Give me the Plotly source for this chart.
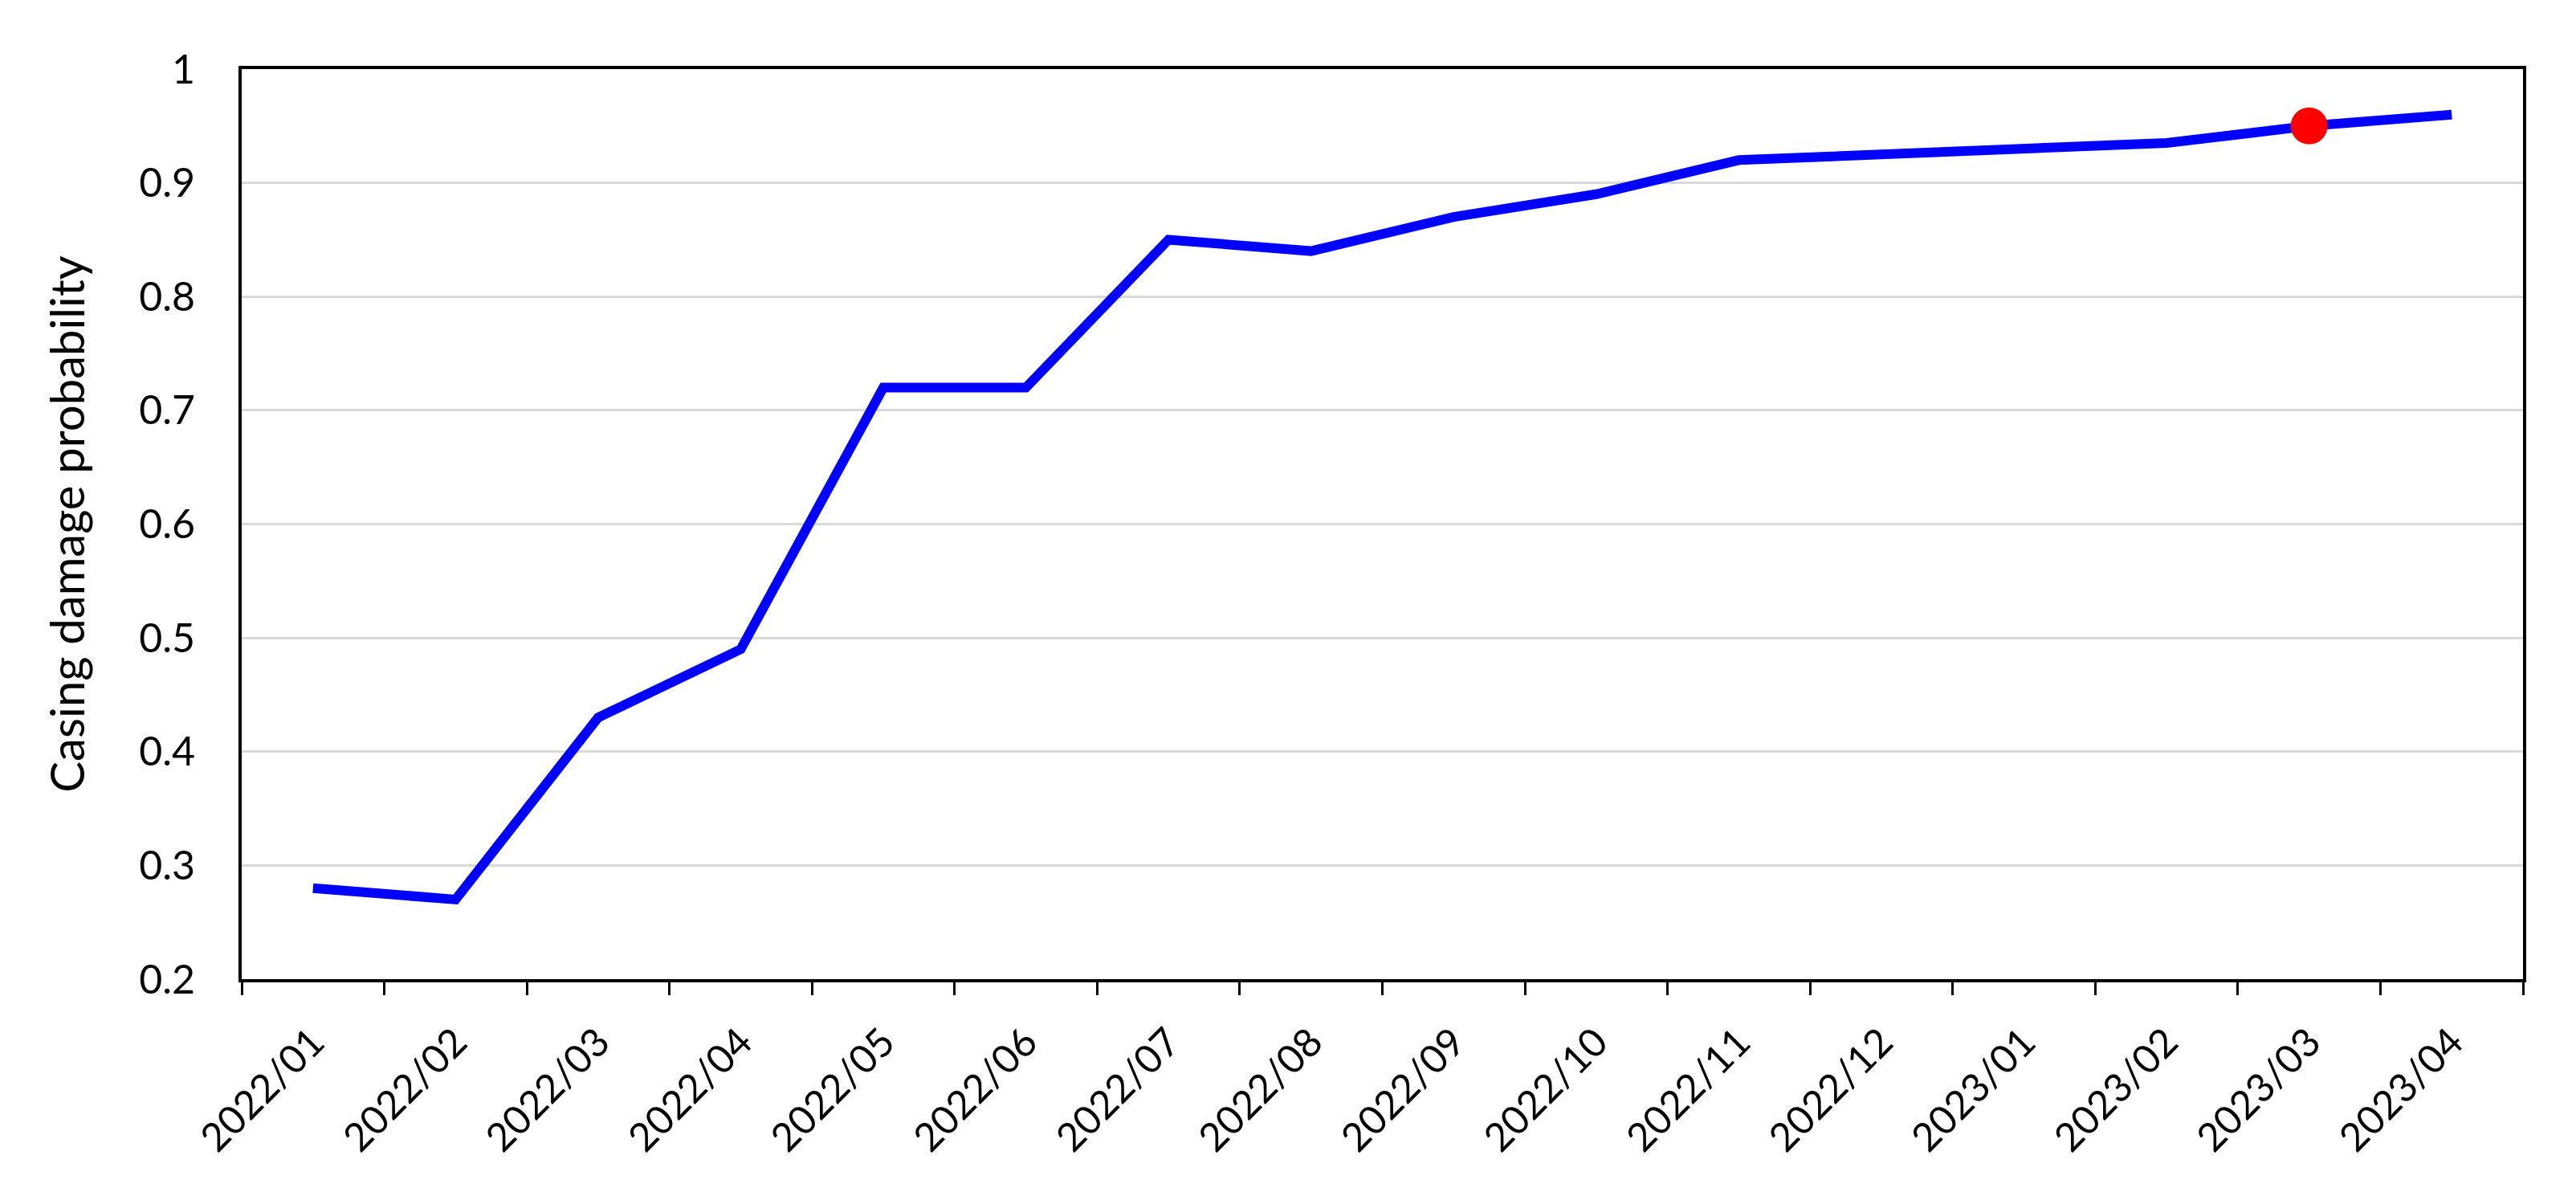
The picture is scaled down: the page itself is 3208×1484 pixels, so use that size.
import plotly.graph_objects as go

months = ["2022/01", "2022/02", "2022/03", "2022/04", "2022/05", "2022/06",
          "2022/07", "2022/08", "2022/09", "2022/10", "2022/11", "2022/12",
          "2023/01", "2023/02", "2023/03", "2023/04"]
probability = [0.28, 0.27, 0.43, 0.49, 0.72, 0.72, 0.85, 0.84, 0.87, 0.89,
               0.92, 0.925, 0.93, 0.935, 0.95, 0.96]
highlight_month = "2023/03"
highlight_value = probability[months.index(highlight_month)]

FONT = "Lato"

fig = go.Figure()
fig.add_trace(go.Scatter(
    x=months, y=probability, mode="lines",
    line=dict(color="#0000ff", width=12),
    showlegend=False,
))
fig.add_trace(go.Scatter(
    x=[highlight_month], y=[highlight_value], mode="markers",
    marker=dict(color="#ff0000", size=46, line=dict(width=0)),
    showlegend=False,
))

fig.update_layout(
    width=3208, height=1484,
    paper_bgcolor="white", plot_bgcolor="white",
    margin=dict(l=293, r=74, t=78, b=273),
    font=dict(family=FONT, size=50, color="black"),
)
fig.update_xaxes(
    type="category", tickson="boundaries",
    range=[-0.5, len(months) - 0.5],
    ticks="outside", ticklen=16, tickwidth=3, tickcolor="black",
    tickangle=-45, ticklabelstandoff=26,
    showline=True, linecolor="black", linewidth=4, mirror=True,
    showgrid=False, zeroline=False,
    tickfont=dict(family=FONT, size=49),
)
fig.update_yaxes(
    range=[0.2, 1.0], dtick=0.1, tick0=0.2,
    showline=True, linecolor="black", linewidth=4, mirror=True,
    showgrid=True, gridcolor="#d9d9d9", gridwidth=3,
    zeroline=False, ticks="", ticklabelstandoff=44,
    tickfont=dict(family=FONT, size=50),
    title=dict(text="Casing damage probability", font=dict(family=FONT, size=58), standoff=50),
)

fig.write_html("out.html")
